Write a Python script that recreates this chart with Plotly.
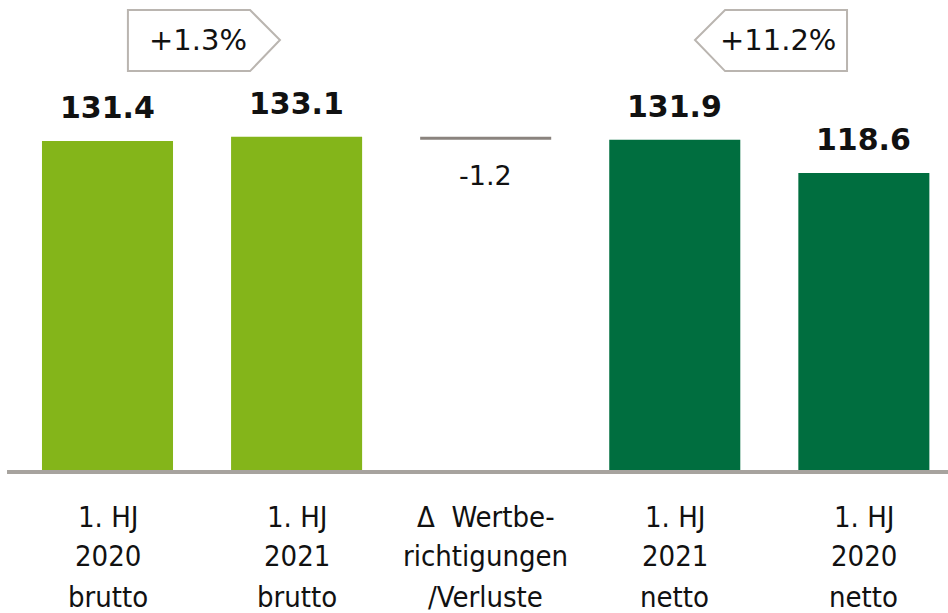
import plotly.graph_objects as go

# Daten
kategorien = [
    ["1. HJ", "2020", "brutto"],
    ["1. HJ", "2021", "brutto"],
    ["\u0394  Wertbe-", "richtigungen", "/Verluste"],
    ["1. HJ", "2021", "netto"],
    ["1. HJ", "2020", "netto"],
]
werte = [131.4, 133.1, None, 131.9, 118.6]
delta_wert = -1.2
delta_basis = 131.9
wachstum_brutto = "+1.3%"
wachstum_netto = "+11.2%"

# Farben
hellgruen = "#84b51a"
dunkelgruen = "#006e3f"
grau = "#8a837e"
rahmen = "#bab5b0"
textfarbe = "#111111"

x_pos = list(range(len(kategorien)))
fig = go.Figure()

# Balken brutto/netto
bar_x = [i for i, v in zip(x_pos, werte) if v is not None]
bar_y = [v for v in werte if v is not None]
bar_farben = [hellgruen, hellgruen, dunkelgruen, dunkelgruen]
fig.add_trace(go.Bar(
    x=bar_x, y=bar_y, width=0.693,
    marker=dict(color=bar_farben, line=dict(width=0)),
    hoverinfo="skip", showlegend=False,
))

# Delta-Balken (Wasserfall)
fig.add_trace(go.Bar(
    x=[2], y=[abs(delta_wert)], base=[delta_basis], width=0.693,
    marker=dict(color=grau, line=dict(width=0)),
    hoverinfo="skip", showlegend=False,
))

annotations = []
# Wertelabels
for x, v in zip(bar_x, bar_y):
    annotations.append(dict(
        x=x, y=v, text=f"<b>{v:.1f}</b>", showarrow=False,
        yanchor="bottom", yshift=14,
        font=dict(family="DejaVu Sans", size=30, color=textfarbe),
    ))
annotations.append(dict(
    x=2, y=delta_basis, text=f"{delta_wert:.1f}", showarrow=False,
    yanchor="top", yshift=-18,
    font=dict(family="DejaVu Sans", size=27, color=textfarbe),
))

# Kategorien als Beschriftung unter der Achse
zeilen_y = [-0.099, -0.182, -0.27]
for x, zeilen in zip(x_pos, kategorien):
    for zy, t in zip(zeilen_y, zeilen):
        annotations.append(dict(
            x=x, y=zy, yref="paper", text=t, showarrow=False,
            yanchor="middle",
            font=dict(family="DejaVu Sans Condensed, DejaVu Sans",
                      size=29, color=textfarbe),
        ))

# Wachstums-Pfeilboxen
annotations.append(dict(
    x=0.479, y=171.7, text=wachstum_brutto, showarrow=False,
    font=dict(family="DejaVu Sans", size=29, color=textfarbe),
))
annotations.append(dict(
    x=3.546, y=171.7, text=wachstum_netto, showarrow=False,
    font=dict(family="DejaVu Sans", size=29, color=textfarbe),
))

shapes = [
    dict(type="path", xref="x", yref="y",
         path="M 0.108 183.7 L 0.754 183.7 L 0.912 171.7 L 0.754 159.3 L 0.108 159.3 Z",
         line=dict(color=rahmen, width=2), fillcolor="white", layer="below"),
    dict(type="path", xref="x", yref="y",
         path="M 3.911 183.7 L 3.266 183.7 L 3.107 171.7 L 3.266 159.3 L 3.911 159.3 Z",
         line=dict(color=rahmen, width=2), fillcolor="white", layer="below"),
    # Grundlinie
    dict(type="line", xref="paper", yref="paper", x0=0.0074, x1=1, y0=-0.004, y1=-0.004,
         line=dict(color="#a7a39e", width=4)),
]

fig.update_layout(
    width=948, height=613,
    margin=dict(l=0, r=0, t=0, b=143),
    plot_bgcolor="white", paper_bgcolor="white",
    barmode="overlay",
    xaxis=dict(range=[-0.5685, 4.445], showticklabels=False, showgrid=False,
               zeroline=False, fixedrange=True),
    yaxis=dict(range=[0, 187.7], visible=False, fixedrange=True),
    annotations=annotations,
    shapes=shapes,
    showlegend=False,
)

fig.write_html("out.html", config={"displayModeBar": False},
               post_script="document.body.style.margin='0';")
